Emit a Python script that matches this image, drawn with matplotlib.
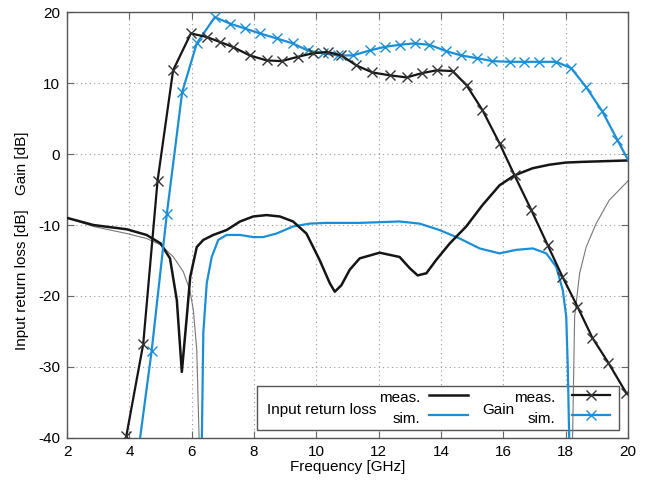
import numpy as np
import matplotlib
matplotlib.use("Agg")
import matplotlib.pyplot as plt
from matplotlib.lines import Line2D
from matplotlib.patches import Rectangle

plt.rcParams['font.family'] = ['Liberation Sans', 'DejaVu Sans']
plt.rcParams['font.size'] = 11
plt.rcParams['axes.unicode_minus'] = False

# Gain, measured (markers on every point)
gain_meas_f = [3.9, 4.44, 4.9, 5.4, 5.97, 6.48, 6.9, 7.32, 7.86, 8.4, 8.88, 9.4, 9.88,
               10.36, 10.8, 11.28, 11.8, 12.35, 12.9, 13.38, 13.86, 14.37, 14.82, 15.33,
               15.88, 16.36, 16.9, 17.42, 17.9, 18.38, 18.86, 19.37, 19.95]
gain_meas = [-39.7, -26.8, -3.8, 11.8, 17.0, 16.5, 15.8, 15.1, 13.9, 13.2, 13.1, 13.7, 14.2,
             14.4, 13.9, 12.5, 11.5, 11.1, 10.8, 11.4, 11.8, 11.7, 9.7, 6.2,
             1.5, -3.0, -7.9, -12.8, -17.3, -21.5, -25.9, -29.4, -33.7]

# Gain, simulated (first and last points carry no marker)
gain_sim_f = [4.34, 4.71, 5.2, 5.69, 6.16, 6.74, 7.22, 7.7, 8.19, 8.72, 9.24, 9.72, 10.2,
              10.69, 11.17, 11.71, 12.19, 12.67, 13.15, 13.63, 14.17, 14.65, 15.17, 15.65,
              16.2, 16.68, 17.16, 17.7, 18.18, 18.65, 19.18, 19.66, 20.0]
gain_sim = [-40.0, -27.8, -8.4, 8.7, 15.6, 19.3, 18.4, 17.7, 17.0, 16.3, 15.6, 14.6, 14.2,
            13.9, 13.9, 14.6, 15.1, 15.4, 15.6, 15.4, 14.5, 13.9, 13.5, 13.1,
            13.0, 13.0, 13.0, 13.0, 12.1, 9.5, 6.0, 2.0, -0.8]

# Input return loss, measured
rl_meas_f = [2.0, 2.84, 3.91, 4.55, 5.0, 5.3, 5.52, 5.68, 5.84, 5.95, 6.16, 6.37, 6.69,
             7.12, 7.55, 7.97, 8.4, 8.83, 9.25, 9.68, 10.1, 10.43, 10.59, 10.8, 11.07,
             11.39, 12.03, 12.67, 13.0, 13.25, 13.53, 13.85, 14.28, 14.81, 15.33, 15.88,
             16.36, 16.94, 17.48, 18.0, 18.54, 20.0]
rl_meas = [-9.0, -10.0, -10.6, -11.4, -12.6, -14.7, -20.6, -30.7, -22.9, -17.3, -13.1, -12.1, -11.4,
           -10.7, -9.5, -8.8, -8.6, -8.8, -9.5, -11.2, -14.9, -18.2, -19.4, -18.5, -16.3,
           -14.7, -13.9, -14.5, -16.1, -17.1, -16.8, -14.9, -12.6, -10.2, -7.2, -4.4,
           -3.0, -2.0, -1.5, -1.2, -1.1, -0.9]

# Input return loss, simulated
rl_sim_f = [6.32, 6.37, 6.48, 6.64, 6.85, 7.12, 7.55, 7.97, 8.29, 8.72, 9.25, 9.79, 10.32,
            11.39, 12.67, 13.31, 13.95, 14.6, 15.24, 15.88, 16.41, 16.95, 17.38, 17.7,
            17.91, 18.02, 18.07, 18.12]
rl_sim = [-41.0, -25.2, -18.2, -14.5, -12.1, -11.4, -11.4, -11.7, -11.7, -11.2, -10.2, -9.8, -9.7,
          -9.7, -9.5, -9.8, -10.7, -11.9, -13.3, -14.0, -13.5, -13.3, -14.0, -15.9,
          -19.2, -22.9, -30.0, -41.0]

# thin grey reference curve (leaves the chart between ~6.2 and ~18.2 GHz)
ref_f = [2.0, 2.84, 3.91, 4.55, 5.0, 5.41, 5.73, 5.94, 6.05, 6.16, 6.24, np.nan,
         18.22, 18.29, 18.45, 18.66, 18.98, 19.4, 20.0]
ref = [-9.0, -10.2, -11.2, -11.9, -12.8, -14.5, -16.6, -19.2, -22.0, -27.6, -41.0, np.nan,
       -41.0, -22.9, -16.8, -13.1, -9.8, -6.5, -3.8]

blue = '#1b8fd6'
black = '#151515'

fig, ax = plt.subplots(figsize=(6.46, 4.86), dpi=100)
fig.subplots_adjust(left=0.104, right=0.972, top=0.975, bottom=0.099)

ax.plot(ref_f, ref, color='#777777', lw=0.8, zorder=2)
ax.plot(rl_sim_f, rl_sim, color=blue, lw=1.6, zorder=3)
ax.plot(rl_meas_f, rl_meas, color=black, lw=1.8, zorder=3)
ax.plot(gain_sim_f, gain_sim, color=blue, lw=1.6, marker='x', ms=7, mew=1.0,
        markevery=list(range(1, len(gain_sim_f) - 1)), zorder=3)
ax.plot(gain_meas_f, gain_meas, color=black, lw=1.6, marker='x', ms=7, mew=1.0,
        mec='#333333', zorder=3)

ax.set_xlim(2, 20)
ax.set_ylim(-40, 20)
ax.set_xticks(np.arange(2, 21, 2))
ax.set_yticks(np.arange(-40, 21, 10))
ax.set_axisbelow(True)
ax.grid(True, linestyle=(0, (1, 3)), color='#999999', lw=0.8)
ax.tick_params(direction='in', top=True, right=True, length=5, color='#666666', pad=5)
for s in ax.spines.values():
    s.set_color('#555555')
    s.set_linewidth(1.0)

ax.set_xlabel('Frequency [GHz]', labelpad=1)
ax.text(-0.08, 0.371, 'Input return loss [dB]', rotation=90, ha='center', va='center',
        transform=ax.transAxes)
ax.text(-0.08, 0.646, 'Gain [dB]', rotation=90, ha='center', va='center',
        transform=ax.transAxes)

# hand-built legend
ax.add_patch(Rectangle((0.339, 0.019), 0.645, 0.103, transform=ax.transAxes,
                       facecolor='white', edgecolor='#555555', lw=1.0, zorder=1))
ax.text(0.356, 0.066, 'Input return loss', transform=ax.transAxes, va='center', zorder=5)
ax.text(0.630, 0.093, 'meas.', transform=ax.transAxes, ha='right', va='center', zorder=5)
ax.text(0.630, 0.044, 'sim.', transform=ax.transAxes, ha='right', va='center', zorder=5)
ax.add_line(Line2D([0.646, 0.715], [0.101, 0.101], transform=ax.transAxes, color=black, lw=1.8, zorder=5))
ax.add_line(Line2D([0.646, 0.715], [0.054, 0.054], transform=ax.transAxes, color=blue, lw=1.6, zorder=5))
ax.text(0.740, 0.066, 'Gain', transform=ax.transAxes, va='center', zorder=5)
ax.text(0.870, 0.093, 'meas.', transform=ax.transAxes, ha='right', va='center', zorder=5)
ax.text(0.870, 0.044, 'sim.', transform=ax.transAxes, ha='right', va='center', zorder=5)
ax.add_line(Line2D([0.900, 0.934, 0.968], [0.101, 0.101, 0.101], transform=ax.transAxes,
                   color=black, lw=1.6, marker='x', ms=7, markevery=[1], mec='#333333', zorder=5))
ax.add_line(Line2D([0.900, 0.934, 0.968], [0.054, 0.054, 0.054], transform=ax.transAxes,
                   color=blue, lw=1.6, marker='x', ms=7, markevery=[1], zorder=5))

fig.savefig('out.png', dpi=100)
